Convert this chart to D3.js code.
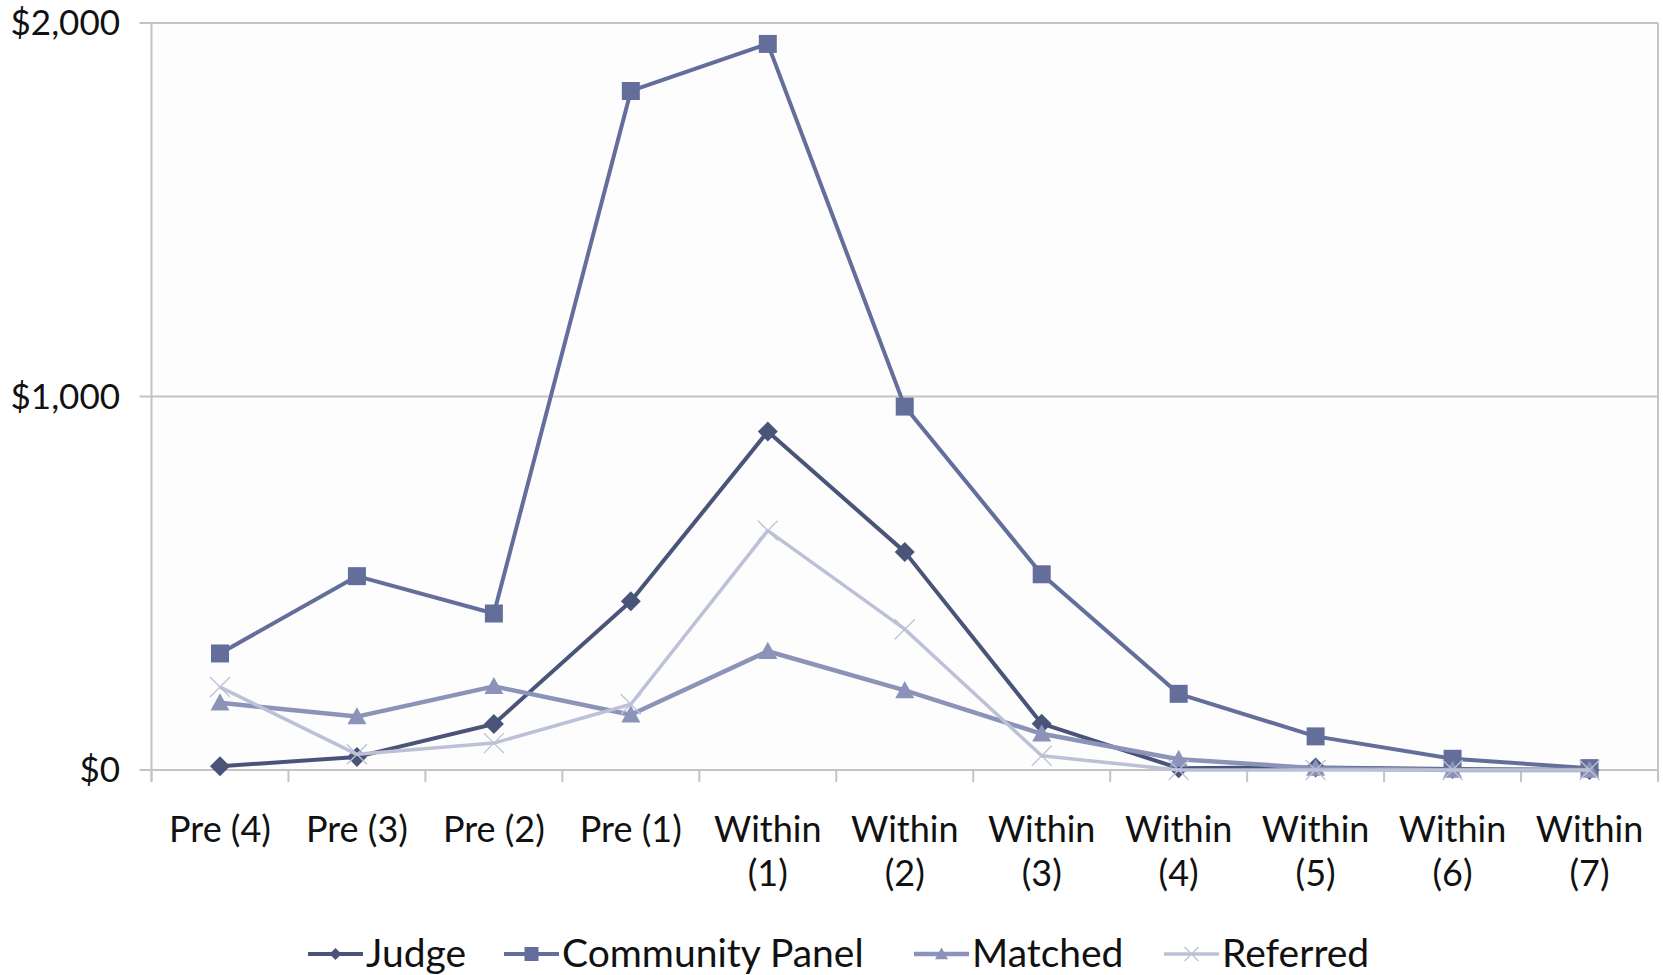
<!DOCTYPE html>
<html>
<head>
<meta charset="utf-8">
<script src="https://cdn.jsdelivr.net/npm/d3@7"></script>
<style>
  html, body { margin: 0; padding: 0; background: #ffffff; }
  svg { display: block; }
  text { font-family: "Gill Sans", "Gill Sans MT", Lato, sans-serif; fill: #111; }
</style>
</head>
<body>
<svg id="chart" width="1663" height="975"></svg>
<script>
// ---- data ----
const categories = ["Pre (4)", "Pre (3)", "Pre (2)", "Pre (1)", "Within (1)", "Within (2)", "Within (3)", "Within (4)", "Within (5)", "Within (6)", "Within (7)"];
const seriesNames = ["Judge", "Community Panel", "Matched", "Referred"];
const judge     = [10, 35, 123, 452, 906, 584, 124, 5, 7, 3, 0];
const community = [312, 519, 419, 1818, 1944, 973, 524, 204, 90, 30, 5];
const matched   = [180, 143, 224, 148, 318, 213, 97, 29, 5, 0, 0];
const referred  = [222, 42, 72, 176, 641, 377, 38, 0, 0, 0, 0];
const yTicks = [0, 1000, 2000];

// ---- styles ----
const colors = ["#4a5479", "#636e9a", "#8b93b8", "#bcc1d6"];
const widths = [4, 4, 4.5, 3.5];

const svg = d3.select("#chart");
const pLeft = 151.5, pRight = 1658, pTop = 23, pBottom = 770;

const x = d3.scaleBand().domain(categories).range([pLeft, pRight]).padding(0);
const y = d3.scaleLinear().domain([0, 2000]).range([pBottom, pTop]);

// plot background
svg.append("rect").attr("x", pLeft).attr("y", pTop).attr("width", pRight - pLeft).attr("height", pBottom - pTop).attr("fill", "#fdfdfe");

// gridlines
svg.append("g").selectAll("line").data(yTicks).join("line")
  .attr("x1", pLeft - 12).attr("x2", pRight)
  .attr("y1", d => y(d)).attr("y2", d => y(d))
  .attr("stroke", "#c4c4c4").attr("stroke-width", 2);

// left axis & right border
svg.append("line").attr("x1", pLeft).attr("x2", pLeft).attr("y1", pTop).attr("y2", pBottom + 12).attr("stroke", "#c4c4c4").attr("stroke-width", 2);
svg.append("line").attr("x1", pRight).attr("x2", pRight).attr("y1", pTop).attr("y2", pBottom + 12).attr("stroke", "#c4c4c4").attr("stroke-width", 2);

// x tick marks at band boundaries
const boundaries = categories.map(c => x(c)).concat([pRight]);
svg.append("g").selectAll("line").data(boundaries).join("line")
  .attr("x1", d => d).attr("x2", d => d)
  .attr("y1", pBottom).attr("y2", pBottom + 12)
  .attr("stroke", "#c4c4c4").attr("stroke-width", 2);

// y labels
const fmt = d3.format(",");
svg.append("g").selectAll("text").data(yTicks).join("text")
  .attr("x", 120).attr("y", d => y(d) + 12)
  .attr("text-anchor", "end")
  .attr("font-size", 35)
  .text(d => "$" + fmt(d));

// x labels
const xl = svg.append("g").selectAll("text").data(categories).join("text")
  .attr("x", d => x(d) + x.bandwidth() / 2)
  .attr("y", 842)
  .attr("text-anchor", "middle")
  .attr("font-size", 36);
xl.each(function(d) {
  const t = d3.select(this);
  const parts = d.startsWith("Within") ? ["Within", d.slice(7)] : [d];
  parts.forEach((p, i) => {
    t.append("tspan").attr("x", x(d) + x.bandwidth() / 2).attr("dy", i === 0 ? 0 : 44).text(p);
  });
});

// symbols
const diamond = { draw(ctx, size) { const r = Math.sqrt(size) / 2; ctx.moveTo(0, -r); ctx.lineTo(r, 0); ctx.lineTo(0, r); ctx.lineTo(-r, 0); ctx.closePath(); } };
const square = { draw(ctx, size) { const r = Math.sqrt(size) / 2; ctx.rect(-r, -r, 2 * r, 2 * r); } };
const triangle = { draw(ctx, size) { const r = Math.sqrt(size) / 2; const h = r * 1.8; ctx.moveTo(0, -h * 0.55); ctx.lineTo(r, h * 0.45); ctx.lineTo(-r, h * 0.45); ctx.closePath(); } };
const cross = { draw(ctx, size) { const r = Math.sqrt(size) / 2; ctx.moveTo(-r, -r); ctx.lineTo(r, r); ctx.moveTo(r, -r); ctx.lineTo(-r, r); } };
const symbolTypes = [diamond, square, triangle, cross];
const symbolSizes = [20 * 20, 18 * 18, 19 * 19, 20 * 20];
const legendSizes = [12 * 12, 14 * 14, 13 * 13, 14 * 14];
const stroked = [false, false, false, true];

const allSeries = [judge, community, matched, referred];
const line = d3.line().x((d, i) => x(categories[i]) + x.bandwidth() / 2).y(d => y(d));

allSeries.forEach((vals, s) => {
  const g = svg.append("g");
  g.append("path").datum(vals).attr("d", line)
    .attr("fill", "none").attr("stroke", colors[s]).attr("stroke-width", widths[s]).attr("stroke-linejoin", "round");
  const sym = d3.symbol().type(symbolTypes[s]).size(symbolSizes[s]);
  g.selectAll("path.m").data(vals).join("path").attr("class", "m")
    .attr("transform", (d, i) => `translate(${x(categories[i]) + x.bandwidth() / 2},${y(d)})`)
    .attr("d", sym)
    .attr("fill", stroked[s] ? "none" : colors[s])
    .attr("stroke", stroked[s] ? colors[s] : "none")
    .attr("stroke-width", 1.3);
});

// legend
const legendX = [308, 504, 914, 1164];
const legendY = 954;
seriesNames.forEach((name, s) => {
  const g = svg.append("g").attr("transform", `translate(${legendX[s]},${legendY})`);
  g.append("line").attr("x1", 0).attr("x2", 55).attr("y1", 0).attr("y2", 0)
    .attr("stroke", colors[s]).attr("stroke-width", widths[s]);
  g.append("path").attr("transform", "translate(27.5,0)")
    .attr("d", d3.symbol().type(symbolTypes[s]).size(legendSizes[s]))
    .attr("fill", stroked[s] ? "none" : colors[s])
    .attr("stroke", stroked[s] ? colors[s] : "none").attr("stroke-width", 1.3);
  g.append("text").attr("x", 58).attr("y", 13).attr("font-size", 39).text(name);
});
</script>
</body>
</html>
